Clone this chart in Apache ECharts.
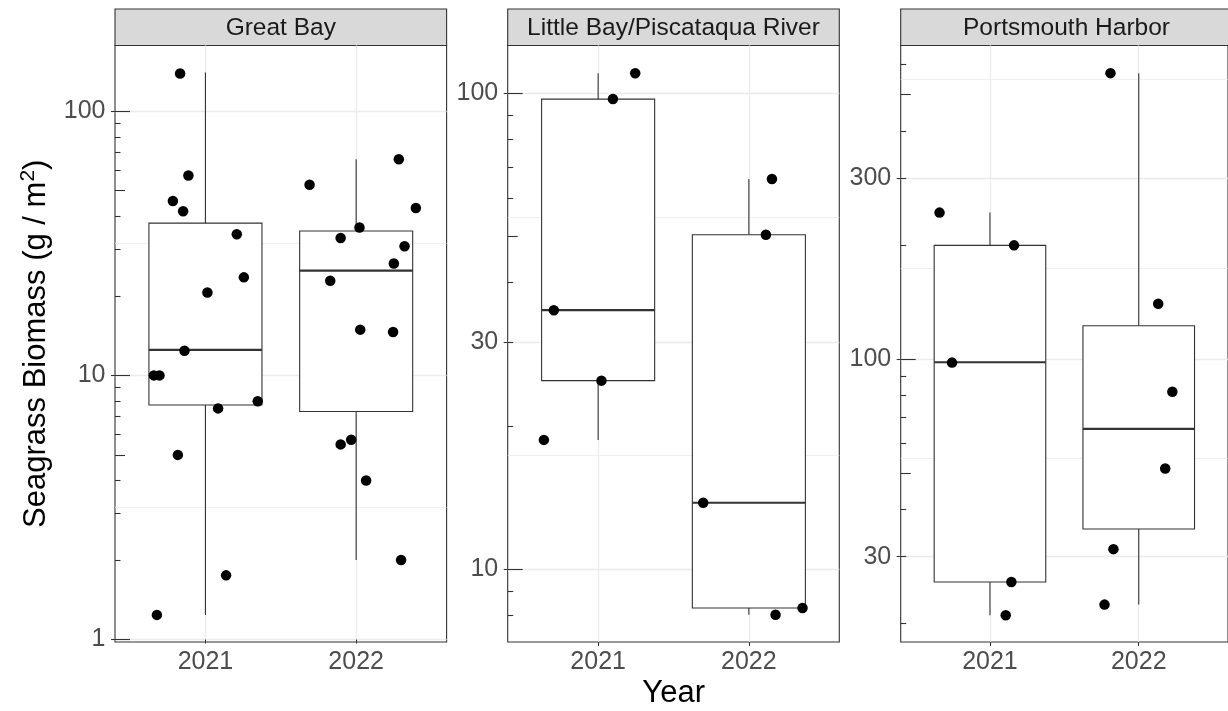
<!DOCTYPE html>
<html><head><meta charset="utf-8">
<script src="https://cdn.jsdelivr.net/npm/echarts@6/dist/echarts.min.js"></script>
<style>html,body{margin:0;padding:0;background:#fff}#c{width:1228px;height:711px}</style>
</head><body><div id="c"></div>
<script>
// ---------------- data ----------------
const years = ['2021', '2022'];
const panels = ['Great Bay', 'Little Bay/Piscataqua River', 'Portsmouth Harbor'];

// jittered points: x = category position (1 = 2021, 2 = 2022) plus jitter; y = biomass (g/m2)
const gb2021X = [0.832, 0.887, 0.784, 0.852, 1.208, 1.255, 1.013, 0.861, 0.658, 0.695, 1.347, 1.084, 0.817, 1.137, 0.678];
const gb2021Y = [139, 57.1, 45.7, 41.8, 34.2, 23.5, 20.6, 12.4, 10.0, 10.0, 7.98, 7.5, 5.0, 1.75, 1.24];
const gb2022X = [2.283, 1.691, 2.396, 2.022, 1.897, 2.321, 2.25, 1.828, 2.027, 2.245, 1.967, 1.897, 2.066, 2.298];
const gb2022Y = [65.8, 52.7, 43.0, 36.3, 33.1, 30.8, 26.5, 22.8, 14.9, 14.6, 5.71, 5.48, 4.0, 2.0];
const lb2021X = [1.246, 1.098, 0.706, 1.022, 0.640];
const lb2021Y = [110, 97.1, 35.0, 24.9, 18.7];
const lb2022X = [2.153, 2.113, 1.697, 2.356, 2.177];
const lb2022Y = [66.0, 50.4, 13.8, 8.3, 8.03];
const ph2021X = [0.661, 1.162, 0.745, 1.144, 1.106];
const ph2021Y = [243.8, 199.7, 97.8, 25.7, 21.0];
const ph2022X = [1.810, 2.131, 2.226, 2.178, 1.830, 1.770];
const ph2022Y = [570, 140, 81.9, 51.3, 31.4, 22.4];

// box statistics: [lower whisker, Q1, median, Q3, upper whisker]
const gbBox2021 = [1.24, 7.72, 12.5, 37.7, 140];
const gbBox2022 = [2.0, 7.3, 24.9, 35.2, 65.8];
const lbBox2021 = [18.7, 24.9, 35.0, 97.1, 110];
const lbBox2022 = [8.03, 8.3, 13.8, 50.4, 66.0];
const phBox2021 = [21.0, 25.7, 98, 199.7, 243.8];
const phBox2022 = [22.4, 35.5, 65.3, 122.4, 570];

// y axis limits (log scale) and ticks per panel
const yLimGB = [0.979, 177.3], yLimLB = [7.04, 125.8], yLimPH = [17.84, 674.5];
const labelTicksGB = [1, 10, 100], labelTicksLB = [10, 30, 100], labelTicksPH = [30, 100, 300];
const minorGridGB = [3.162, 31.62], minorGridLB = [17.32, 54.77], minorGridPH = [54.77, 173.2, 547.7];
const longTicksGB = [1, 10, 100], longTicksLB = [10, 100], longTicksPH = [100];
const midTicksGB = [5, 50], midTicksLB = [50], midTicksPH = [50, 500];
const shortTicksGB = [2, 3, 4, 6, 7, 8, 9, 20, 30, 40, 60, 70, 80, 90];
const shortTicksLB = [8, 9, 20, 30, 40, 60, 70, 80, 90];
const shortTicksPH = [20, 30, 40, 60, 70, 80, 90, 200, 300, 400, 600];

// ---------------- build ----------------
const P = [
  {xs: [gb2021X, gb2022X], ys: [gb2021Y, gb2022Y], box: [gbBox2021, gbBox2022], lim: yLimGB, lab: labelTicksGB, mg: minorGridGB, lt: longTicksGB, mt: midTicksGB, st: shortTicksGB},
  {xs: [lb2021X, lb2022X], ys: [lb2021Y, lb2022Y], box: [lbBox2021, lbBox2022], lim: yLimLB, lab: labelTicksLB, mg: minorGridLB, lt: longTicksLB, mt: midTicksLB, st: shortTicksLB},
  {xs: [ph2021X, ph2022X], ys: [ph2021Y, ph2022Y], box: [phBox2021, phBox2022], lim: yLimPH, lab: labelTicksPH, mg: minorGridPH, lt: longTicksPH, mt: midTicksPH, st: shortTicksPH}
];
const L = Math.log10;
const FONT = '"Liberation Sans", Arial, sans-serif';
const LEFTS = [115, 507.7, 900.7], TOP = 45.5, W = 331.6, H = 596.5, STRIP_TOP = 9;
const DARK = '#333333', GRID = '#EBEBEB';

const grids = [], xAxes = [], yAxes = [], series = [], graphics = [];
P.forEach((p, i) => {
  grids.push({left: LEFTS[i], top: TOP, width: W, height: H, show: true,
    borderColor: DARK, borderWidth: 1.1, backgroundColor: '#fff', containLabel: false});
  xAxes.push({type: 'value', gridIndex: i, min: 0.4, max: 2.6,
    axisLine: {show: false},
    axisTick: {show: true, customValues: [1, 2], length: 4, lineStyle: {color: DARK, width: 1.1}},
    axisLabel: {customValues: [1, 2], formatter: v => years[Math.round(v) - 1], fontSize: 25,
      color: '#4D4D4D', fontFamily: FONT, margin: 8},
    splitLine: {show: true, lineStyle: {color: GRID, width: 1.3}}});
  const base = {type: 'value', gridIndex: i, position: 'left', min: L(p.lim[0]), max: L(p.lim[1]),
    axisLine: {show: false}, axisLabel: {show: false}, splitLine: {show: false}};
  // labelled axis (major grid, outside ticks)
  yAxes.push(Object.assign({}, base, {
    axisLabel: {show: true, customValues: p.lab.map(L), formatter: v => String(Math.round(Math.pow(10, v))),
      fontSize: 25, color: '#4D4D4D', fontFamily: FONT, margin: 9.5},
    axisTick: {show: true, customValues: p.lab.map(L), length: 4, lineStyle: {color: DARK, width: 1.1}},
    splitLine: {show: true, lineStyle: {color: GRID, width: 1.3}}}));
  // minor grid
  yAxes.push(Object.assign({}, base, {
    axisTick: {show: false, customValues: p.mg.map(L)},
    splitLine: {show: true, lineStyle: {color: GRID, width: 0.8}}}));
  // log ticks inside: long, mid, short
  [[p.lt, 15], [p.mt, 10], [p.st, 5.5]].forEach(([vals, len]) => {
    yAxes.push(Object.assign({}, base, {
      axisTick: {show: true, inside: true, customValues: vals.map(L), length: len, lineStyle: {color: DARK, width: 1.1}}}));
  });
  const yi = i * 5;
  // boxplots
  series.push({type: 'custom', xAxisIndex: i, yAxisIndex: yi, z: 2,
    data: p.box.map((b, k) => [k + 1].concat(b.map(L))),
    encode: {x: 0, y: [1, 2, 3, 4, 5]},
    renderItem: (params, api) => {
      const x = api.value(0), hw = 0.375;
      const lo = api.coord([x, api.value(1)]), q1 = api.coord([x, api.value(2)]),
        md = api.coord([x, api.value(3)]), q3 = api.coord([x, api.value(4)]), hi = api.coord([x, api.value(5)]);
      const xl = api.coord([x - hw, api.value(3)])[0], xr = api.coord([x + hw, api.value(3)])[0];
      const ls = {stroke: DARK, lineWidth: 1.1};
      return {type: 'group', children: [
        {type: 'line', shape: {x1: hi[0], y1: hi[1], x2: q3[0], y2: q3[1]}, style: ls},
        {type: 'line', shape: {x1: q1[0], y1: q1[1], x2: lo[0], y2: lo[1]}, style: ls},
        {type: 'rect', shape: {x: xl, y: q3[1], width: xr - xl, height: q1[1] - q3[1]}, style: {fill: '#fff', stroke: DARK, lineWidth: 1.1}},
        {type: 'line', shape: {x1: xl, y1: md[1], x2: xr, y2: md[1]}, style: {stroke: DARK, lineWidth: 2.2}}
      ]};
    }});
  // jittered points
  const pts = [];
  p.xs.forEach((xa, k) => xa.forEach((xv, j) => pts.push([xv, L(p.ys[k][j])])));
  series.push({type: 'scatter', xAxisIndex: i, yAxisIndex: yi, z: 3, data: pts,
    symbol: 'circle', symbolSize: 10.5, itemStyle: {color: '#000', opacity: 1}});
  // strip
  graphics.push({type: 'rect', shape: {x: LEFTS[i], y: STRIP_TOP, width: W, height: TOP - STRIP_TOP},
    style: {fill: '#D9D9D9', stroke: DARK, lineWidth: 1.1}});
  graphics.push({type: 'text', x: LEFTS[i] + W / 2, y: (STRIP_TOP + TOP) / 2 + 1,
    style: {text: panels[i], fontSize: 24.5, fontFamily: FONT, fill: '#1A1A1A', align: 'center', verticalAlign: 'middle'}});
});
graphics.push({type: 'text', x: (LEFTS[0] + LEFTS[2] + W) / 2, y: 693,
  style: {text: 'Year', fontSize: 31, fontFamily: FONT, fill: '#000', align: 'center', verticalAlign: 'middle'}});
graphics.push({type: 'text', x: 36, y: TOP + H / 2, rotation: Math.PI / 2,
  style: {text: '{a|Seagrass Biomass (g / m}{s|2}{a|)}', align: 'center', verticalAlign: 'middle',
    rich: {a: {fontSize: 31, fontFamily: FONT, fill: '#000', lineHeight: 36},
           s: {fontSize: 21, fontFamily: FONT, fill: '#000', verticalAlign: 'top', lineHeight: 22}}}});

const chart = echarts.init(document.getElementById('c'), null, {renderer: 'canvas'});
chart.setOption({animation: false, backgroundColor: '#fff', grid: grids, xAxis: xAxes, yAxis: yAxes,
  series: series, graphic: {elements: graphics}});
</script></body></html>
